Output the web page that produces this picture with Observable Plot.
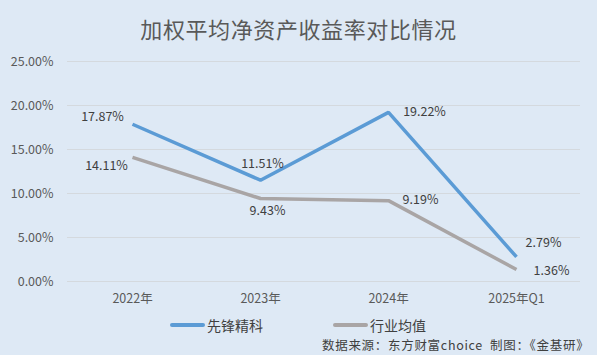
<!DOCTYPE html>
<html><head><meta charset="utf-8">
<script src="https://cdn.jsdelivr.net/npm/d3@7"></script>
<script src="https://cdn.jsdelivr.net/npm/@observablehq/plot@0.6"></script>
<style>
body{margin:0;}
#wrap{position:relative;width:597px;height:355px;background:#dee9f5;font-family:"Noto Sans CJK SC","Noto Sans",sans-serif;overflow:hidden;}
#title{position:absolute;left:0;width:597px;text-align:center;top:14px;line-height:28px;font-size:22px;color:#595959;letter-spacing:0.6px;white-space:nowrap;}
#chart{position:absolute;left:0;top:50px;}
.leg{position:absolute;top:318px;line-height:14px;font-size:14px;color:#404040;display:flex;align-items:center;white-space:nowrap;}
.sw{display:inline-block;width:35px;height:4px;border-radius:2px;margin-right:2px;}
#cap{position:absolute;left:322px;top:338px;line-height:13px;font-size:12.5px;color:#404040;white-space:nowrap;letter-spacing:0.7px;}
</style></head>
<body>
<div id="wrap">
  <div id="title">加权平均净资产收益率对比情况</div>
  <div id="chart"></div>
  <div class="leg" style="left:170px"><span class="sw" style="background:#5b9bd5"></span>先锋精科</div>
  <div class="leg" style="left:333px"><span class="sw" style="background:#a9a5a5"></span>行业均值</div>
  <div id="cap">数据来源：东方财富choice&nbsp;&nbsp;制图：《金基研》</div>
</div>
<script>
const categories = ["2022年", "2023年", "2024年", "2025年Q1"];
const seriesNames = ["先锋精科", "行业均值"];
const xianfeng = [17.87, 11.51, 19.22, 2.79];
const industry = [14.11, 9.43, 9.19, 1.36];
const yTicks = [0, 5, 10, 15, 20, 25];
const colors = ["#5b9bd5", "#a9a5a5"];

// label placement (style, not data)
const labelOffsets = [
  [[-30, -7], [2, -16], [36, 0], [27, -14]],
  [[-26, 9], [7, 12], [32, -1], [35, 1]]
];

const rows = [];
[xianfeng, industry].forEach((vals, s) => {
  vals.forEach((v, i) => rows.push({cat: categories[i], v, s: seriesNames[s], si: s, i}));
});

const labelMarks = rows.map(r => Plot.text([r], {
  x: "cat", y: "v", text: d => d.v.toFixed(2) + "%",
  dx: labelOffsets[r.si][r.i][0], dy: labelOffsets[r.si][r.i][1],
  fill: "#404040", fontSize: 12.5
}));

const chart = Plot.plot({
  width: 597, height: 262,
  marginLeft: 67, marginRight: 17, marginTop: 11, marginBottom: 31,
  style: {background: "transparent", fontFamily: "'Noto Sans CJK SC','Noto Sans',sans-serif"},
  x: {type: "point", domain: categories, padding: 0.5, label: null},
  y: {domain: [0, 25], ticks: yTicks, label: null},
  color: {domain: seriesNames, range: colors},
  marks: [
    Plot.gridY(yTicks, {stroke: "#d4d9de", strokeOpacity: 1}),
    Plot.axisY(yTicks, {tickSize: 0, tickPadding: 14, tickFormat: d => d.toFixed(2) + "%", fontSize: 12.5, fill: "#595959", label: null}),
    Plot.axisX({tickSize: 0, tickPadding: 13, fontSize: 12.5, fill: "#595959", label: null}),
    Plot.line(rows, {x: "cat", y: "v", z: "s", stroke: "s", strokeWidth: 3.5, strokeLinejoin: "miter", strokeLinecap: "butt"}),
    ...labelMarks
  ]
});
document.getElementById("chart").appendChild(chart);
</script>
</body></html>
